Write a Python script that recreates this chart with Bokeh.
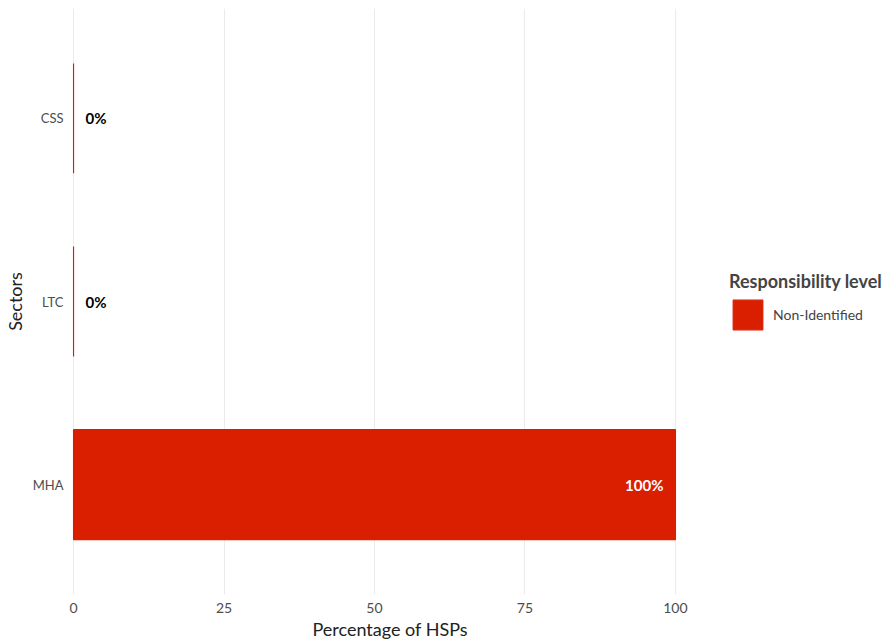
from bokeh.plotting import figure
from bokeh.models import ColumnDataSource, FactorRange, Legend, LegendItem, FixedTicker, Range1d, Title
from bokeh.core.properties import value
from bokeh.embed import file_html
from bokeh.resources import INLINE

sectors = ["MHA", "LTC", "CSS"]
values = [100, 0, 0]
level = "Non-Identified"
x_ticks = [0, 25, 50, 75, 100]

RED = "#DA1E00"
FONT = "Lato"

labels = [f"{v}%" for v in values]
lab_color = ["white" if v > 50 else "black" for v in values]
lab_align = ["right" if v > 50 else "left" for v in values]
lab_off = [-12 if v > 50 else 12 for v in values]

src = ColumnDataSource(dict(sector=sectors, value=values, label=labels,
                            color=lab_color, align=lab_align, off=lab_off))

yr = FactorRange(factors=sectors, range_padding=0.1, range_padding_units="absolute")
p = figure(frame_width=810, frame_height=586, y_range=yr, x_range=Range1d(-0.17, 134.4),
           output_backend="svg", toolbar_location=None,
           min_border_left=72, min_border_top=8, min_border_bottom=0, min_border_right=0)
p.outline_line_color = None
p.background_fill_color = "white"

r = p.hbar(y="sector", right="value", left=0, height=0.6, source=src,
           fill_color=RED, line_color=RED, line_width=1.2)

p.text(x="value", y="sector", text="label", source=src, text_color="color",
       text_align="align", x_offset="off", text_baseline="middle",
       text_font_size="15px", text_font_style="bold", text_font=value(FONT))

p.xaxis.ticker = FixedTicker(ticks=x_ticks)
for ax in (p.xaxis[0], p.yaxis[0]):
    ax.axis_line_color = None
    ax.major_tick_line_color = None
    ax.minor_tick_line_color = None
    ax.major_tick_out = 0
    ax.major_tick_in = 0
    ax.minor_tick_out = 0
    ax.minor_tick_in = 0
    ax.major_label_text_font = FONT
    ax.major_label_text_font_size = "14px"
    ax.major_label_text_color = "#4d4d4d"
    ax.axis_label_text_font = FONT
    ax.axis_label_text_font_size = "18px"
    ax.axis_label_text_font_style = "normal"
    ax.axis_label_text_color = "#222222"

p.yaxis.major_label_text_font_size = "13px"
p.yaxis.axis_label = "Sectors"
p.xaxis.major_label_standoff = 8
p.yaxis.major_label_standoff = 9
p.yaxis.axis_label_standoff = 4

# x-axis title, placed under the bar area (0..105) as in the reference
p.add_layout(Title(text="Percentage of HSPs", align="left", offset=240,
                   text_font=FONT, text_font_size="18px", text_font_style="normal",
                   text_color="#222222", standoff=0), "below")

p.xgrid.grid_line_color = "#ebebeb"
p.xgrid.grid_line_width = 1
p.ygrid.grid_line_color = None

legend = Legend(items=[LegendItem(label=level, renderers=[r])],
                title="Responsibility level", location=(657, 261),
                glyph_width=37, glyph_height=37, label_height=37,
                label_text_font=FONT, label_text_font_size="14px",
                title_text_font=FONT, title_text_font_size="18px",
                title_text_font_style="bold", title_standoff=4,
                border_line_color=None, padding=0, margin=0,
                label_standoff=7, background_fill_alpha=0)
p.add_layout(legend, "center")

open("out.html", "w").write(file_html(p, INLINE))
